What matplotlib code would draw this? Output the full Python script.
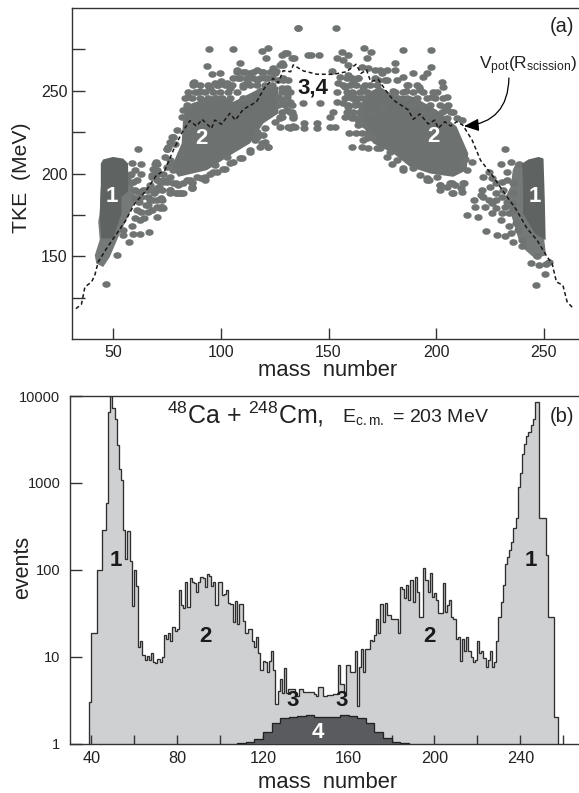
import numpy as np
import matplotlib
matplotlib.use("Agg")
import matplotlib.pyplot as plt
from matplotlib.markers import MarkerStyle
from matplotlib.transforms import Affine2D

plt.rcParams['font.family'] = ['Liberation Sans', 'DejaVu Sans']
plt.rcParams['mathtext.fontset'] = 'custom'
plt.rcParams['mathtext.rm'] = 'Liberation Sans'
plt.rcParams['mathtext.default'] = 'rm'

W, H = 579, 793
BLOB = '#6f7372'
CORE = '#6d7170'
DARK1 = '#5f6463'
LIGHT1 = '#757978'
INK = '#222222'

# ---- panel (a): theoretical curve
curve_mass = [32.5,35.1,36.7,39.8,41.3,42.9,46.7,50.6,55.3,59.9,65.3,70,73.9,77.8,81.6,85.5,88.6,91.2,95.6,97.1,100.2,104.1,
              106.7,110.3,116.5,120.4,124.2,126.6,128.9,129.7,132.4,133.6,138.3,144.5,152.2,158.4,162.8,165.1,167.7,169.6,
              173.1,177,180.1,187.1,189.4,192.5,196.4,199.5,201,204.1,206.8,209.6,212.4,216.8,220.7,226.1,230.8,237,242.4,
              247,251.7,254,256,259,261,264]
curve_tke = [118.3,121,131.4,134.5,138.5,146.6,154.6,162,170.8,181.9,189.9,199,202,214,224.2,231.9,228.6,232.7,227.2,232.3,229.8,236.3,
             232.3,238.7,243.3,252,257.5,254.8,262.1,262,261.5,265.6,262,260,259.9,261.5,266,260.5,262.6,255.5,
             256.9,249.5,244.4,238.4,232.7,236,229.9,232.3,227.3,231.3,228.7,231.3,229.3,220.2,208,199,190,178.8,166.7,
             159.7,149.6,145.6,134.5,132.5,122.4,118.3]

# ---- panel (a): dense regions outlined on the picture
core_left_mass = [82.5,86.4,98,105.8,113.5,119.7,126.7,126.7,119.7,113.5,105.8,93.4,80.2,77,81.7]
core_left_tke = [235.3,242.4,247.4,243.4,248.4,252.5,252.5,236.3,230.3,218.2,212.2,202,198,204,218.2]
core_right_mass = [167.7,173.9,180.1,189.4,200.3,209.6,215,214.2,208,197.2,187.9,180.1,170.8,166.2,163]
core_right_tke = [248.4,252.5,247.4,246.4,238.4,228.3,212.2,202,198,200,204,212.2,218.2,228.3,236.3]
peak_left_light_mass = [56,59,60.4,56.8,53,48.3,45.2,42,41.3,43.6,42.9,43.6,44.1]
peak_left_light_tke = [204,194,184,174,164,149.6,143.5,145.6,150.6,160,171,175.8,192]
peak_left_dark_mass = [44.1,45.2,49.8,54.5,56.8,56.8,53.7,53.7,49.8,44.4,43.6,44.1]
peak_left_dark_tke = [206,208.5,210,209,206,189,186,175.8,160.7,160.7,175.8,192]
peak_right_light_mass = [237,240,250,251.2,246,241.6,238.5,235.7,232.3,234.7,235.7]
peak_right_light_tke = [206,206,163.7,150.6,148.6,153.6,159.7,171.8,186,192,202]
peak_right_dark_mass = [240,243,247.8,250,250.6,251,246,240.5,240.5]
peak_right_dark_tke = [206,208.5,210,209,184,159.7,163.7,175.8,192]

# ---- panel (a): individual event blobs
left_mass = [46.4,51.4,57.3,59.1,66.6,62.2,54.2,54.5,61.5,58.4,62.6,59.9,57.6,56.8,59.1,69.7,68.4,67.7,73,70,66.1,70,63.8,61.5,59.9,66,68.4,72.3,
             73.1,70,65.3,63,66,70,60,62.2,58.4,74.7,73,76.2,76.2,79.3,81.6,86.3,86.3,84,90.9,79.3,77.8,77,75.4,76.2,74.7,78.5,81.6,
             94.6,105.8,119,122,121,129.8,133,136,140.6,93.7,108.9,95.7,99.6,97.2,87.6,94.6,127.5,125.6,
             87.2,89.5,84.8,91.8,94.9,98.8,102.7,104.2,107.3,110.4,113.5,116.6,119.7,108,112,116.6,120.5,124.4,128.2,123.6,130.6,128.2,132,
             130.6,133.7,128.2,132,134.4,125.1,120.5,116.6,120.5,122,118.2,113.5,109.6,105.8,101.9,98,92.6,86.4,86.4,81,76.3,73.2,
             77.9,74.8,69.3,70.9,70,72.4,71.7,67,84,90,100,110,118,128,85,95,103,97,
             87.2,90.3,94.1,98,101.9,105,110.4,113.5,116.6,120.5,123.6,
             84.8,87.9,92.6,96.5,99.6,103.4,107.3,
             83.3,86.4,90.3,94.1,97.2,100.3,104.2,110.4,113.5,
             105.8,108.9,112,115.1,118.2,121.3,
             107.3,111.2,115.1,118.9,122.8,
             125.1,126.7,129,128.2,130.6,126.7,130.6,126.7,129.8,132.9,128.2,132.1,127.5,133.7,
             116.6,119.7,115.8,118.9,122,113.5,108.9,
             104.2,101.1,96.5,92.6,88.7,85.6,86.4,82.5,80.2,77.9,74.8,71.7,76.3,79.4,82.5,69.3,72.4,70,72.4,
             81.7,82.5,84,77.9,76.3,79.4,74.8,74,76.3,70,69.3,67.8,
             63,65,62,67,69,66,64,68,72,61,60,63,61,58,70,71]
left_tke = [133,150.6,158.7,163.7,164.7,163.7,165.7,162.7,214.7,206.5,205.6,202,199,195,195,206.7,203,199,200,196,190,191,190,189,185,186,184,185,
            179,180,181,177,177,174,173,172,168,195,195,198,190,188,188,191,195,196,197,194,202,222,216,208,204,218,212,
            275,275,274,275.7,270,272.6,269.6,287.8,271.6,265,266.6,260,260.5,254.5,255.5,252.5,265.6,262,
            254.5,249.5,246.4,244.4,251.5,253.5,254.5,251.5,262.6,261.5,260.5,262.6,261.5,257.5,255.5,256.5,257.5,263.6,266.6,257.5,249.5,242.4,243.4,
            238.4,235.3,234.3,227.3,228.3,231.3,227.3,222.2,219.2,216.2,216.2,214.2,209.1,207.1,203,201,196,194,191,188,188,196,
            222.2,215,206,200,190,184,179,184,240,250,256,252,250,245,228,200,210,205,
            253.5,253.5,253.5,253.5,253.5,253.5,253.5,253.5,253.5,253.5,253.5,
            249.5,249.5,249.5,249.5,249.5,249.5,249.5,
            245.4,245.4,245.4,245.4,245.4,245.4,245.4,245.4,245.4,
            257.5,257.5,257.5,257.5,257.5,257.5,
            261.5,261.5,261.5,261.5,261.5,
            260.5,256.5,256.5,251.5,251.5,246.4,246.4,241.4,241.4,241.4,237.3,237.3,233.3,233.3,
            225.2,223.2,220.2,218.2,215.8,213.2,209.1,
            206.1,203,201,198,198,196,192,194,193,194,196,195,190,188,188,190,190,184,180,
            234.3,238.4,241.4,222.2,219.2,226.2,215,210,206,206,202,198,
            186,190,183,193,188,181,173,178,180,178,190,200,196,200,202,192]
mid_mass = [135.6,153.4,130.5,128.2,133.9,141.7,145.7,156.4,159.2,153.8,156.9,129,159.2,151.4,155.3,154.5,153.8,156.9,129,131.3,128.2,132,129.7,
            138.3,146,153.8,156.9,132.8,133.6,127.4,152.2,150.7,131.3,133.6,127.4,138.6,138.6,144.5,144.5,150.7,153,159.5]
mid_tke = [288.2,288.2,272.6,271.6,269.6,271.8,271.8,273.2,271.8,269.6,268.6,265.6,265.6,262.2,258.5,254.5,249.5,253.5,257.5,256.5,249.5,249.5,242.4,
           242.4,242.4,243.4,242.4,237.3,234.3,234.3,237.3,234.3,228.3,228.7,228.3,230.3,227.3,230.3,227.3,228.3,227.9,224.2]
right_mass = [166.5,169.6,168,184.5,197.5,180.9,180.9,197.5,189.4,195.6,194,202.6,203.4,181.7,184.8,186.3,192.5,200.3,204.9,208,211.9,204.9,
              159.2,161.5,157.6,158.4,161.5,159.2,160.7,157.6,163.8,163.8,165.4,168.5,171.6,174.7,171.6,177,166.2,
              160.7,165.4,166.2,168.5,172.4,177,179.3,184.8,195.6,201.8,206.5,208,211.9,163,
              232.3,230,234.7,238.5,213.7,216.8,212.2,214.5,207.5,207.5,211.4,213,202,202,196.7,221.5,220.7,224.6,226,230.8,233,233,
              227.7,224.6,230.8,217.6,223,227.7,226,214.5,219.6,232.3,230.8,233.9,223.3,228.4,235.7,240,234.7,247.8,251,250.5,246.3,252.5,
              237,235.4,186,192,198,204,175,180,170,163,
              158.4,160.7,163.8,160,163,166.9,169.3,172.4,158.4,160.7,164.6,167.7,157.6,160.7,163.8,166.2,159.2,162.3,164.6,158.4,161.5,164.6,
              160.7,163.8,166.2,163.8,166.9,165.4,168.5,167.7,170.8,
              187.1,191,180.9,184.8,189.4,194.1,198.7,181.7,186.3,191,195.6,199.5,203.4,188.6,192.5,197.2,201.8,205.7,193.3,198,202.6,207.2,
              195.6,200.3,204.9,209.6,173.1,176.2,173.9,177,
              178.6,173.9,181.7,184.8,189.4,192.5,195.6,200.3,204.9,208.8,212.7,
              222,225,228,231,236,236,228,222,218,233,236,230,226,234,238,232,240,244,247]
right_tke = [275.7,273.6,269.6,274.7,274.7,266.6,262.6,264.6,260.5,260.5,258.1,255.5,252.5,256.5,258.5,253.5,250.5,249.5,246.4,237.3,232.3,238.4,
             259.5,255.5,252.5,246.4,248.4,240.4,235.3,234.3,232.3,257.5,264.6,263.6,262.6,260.5,257.5,256.5,252.5,
             216.2,216.2,220.2,215.2,215.2,210,206,202,197,193,194,188,189,224.2,
             214.7,206,207,206,209,207,206,202,194,188,191,194,193,190,196,190,187,201,197,195,201,196,
             188,184,186,184,180,179,182,175,174,180,176,176,165,163,158.7,160,164,144.6,145.6,139.5,132.9,146.6,
             170,182,250,252,246,240,240,250,236,243,
             257.5,257.5,257.5,253.5,253.5,253.5,253.5,253.5,249.5,249.5,249.5,249.5,245.4,245.4,245.4,245.4,241.4,241.4,241.4,237.3,237.3,237.3,
             233.3,233.3,233.3,229.3,229.3,224.3,224.3,221.2,221.2,
             253.5,253.5,249.5,249.5,249.5,249.5,249.5,245.4,245.4,245.4,245.4,245.4,245.4,241.4,241.4,241.4,241.4,241.4,237.3,237.3,237.3,237.3,
             233.3,233.3,233.3,233.3,256.5,256.5,262.6,262.6,
             213.2,215.2,208.1,203.1,203.1,199,196,198,192,193,194,
             198,192,194,190,194,188,184,186,180,183,178,172,176,168,166,162,156,146,150]

# ---- panel (b): event counts per unit mass bin
hist_first_edge = 38.8
events = [3,19,19,19,100,100,290,290,580,6500,10000,7300,5500,2750,1460,1070,290,133,280,125,38,100,65,13,15,10.4,9.2,10.3,9.2,11,8.6,8.4,
          9.4,8.8,10,18,16,19,15,22,20,21,58,39,36,73,37,80,73,70,56,72,83,80,64,90,85,65,72,39,72,73,51,53,59,42,40,25,44,24,41,40,26,19,21,21,
          15,13,17,11,7,9,8.6,6.7,9,11.7,7,2.9,4,5.5,3.8,7.5,3.8,
          4.25,4.25,4.25,3.5,3.5,4.3,4.3,3.9,3.9,3.9,3.9,3.9,3.7,3.5,4.5,4.5,3.5,3.5,3.6,3.6,3.6,3.7,3.7,8,4.9,4.8,3.9,8,8,6.7,6.7,11.7,2.7,7.7,
          12.4,6.7,12.4,12.4,15.5,15,18,27,18.6,41,25,42,30,30,27,27,27,19,64,60,47,67,45,76,43,83,56,29,29,105,76,56,91,49,54,45,32,32,70,33,39,
          45,29,27,16,17,9,16,11.5,17,11.5,10,8.8,9.2,15,11,11.5,9.6,7.7,9.2,11.5,7.7,8.8,15,29,43,67,118,140,168,210,300,390,890,1300,2150,2800,
          3500,3900,4700,5500,8500,8500,390,390,390,147,29,29,29,2.04,2.04]
sym_edges = [108,112,116,120,124,128,132,136,140,144,148,152,156,160,164,168,172,176,180,184,188]
sym_events = [1.02,1.04,1.13,1.35,1.71,1.95,2.05,2.1,2.14,2.05,2.04,2.04,2.14,2.08,1.95,1.71,1.35,1.15,1.05,1.02]

a_xticks = [50,100,150,200,250]
a_yticks = [125,150,175,200,225,250,275]
a_ylabels = ['','150','','200','','250','']
b_xticks = [40,60,80,100,120,140,160,180,200,220,240,260]
b_xlabels = ['40','','80','','120','','160','','200','','240','']
b_yticks = [1,10,100,1000,10000]
b_ylabels = ['1','10','100','1000','10000']

fig = plt.figure(figsize=(W/100, H/100), dpi=100, facecolor='white')

def px_axes(l, t, r, b):
    return fig.add_axes([l/W, 1-b/H, (r-l)/W, (b-t)/H])

def px_text(x, y, s, **kw):
    kw.setdefault('ha', 'center')
    kw.setdefault('va', 'center')
    kw.setdefault('color', INK)
    return fig.text(x/W, 1-y/H, s, **kw)

def style(ax):
    for k, sp in ax.spines.items():
        sp.set_color('#333333')
        sp.set_linewidth(1.0)
    ax.spines['right'].set_visible(False)
    ax.set_axisbelow(False)

# ---------- panel (a)
axa = px_axes(72, 8, 579, 339)
style(axa)
axa.set_xlim(30.7, 266.5)
axa.set_ylim(100, 300)
axa.set_xticks(a_xticks)
axa.set_yticks(a_yticks, a_ylabels)
axa.tick_params(axis='x', direction='in', length=8, width=1, color='#333333', labelsize=11.5, pad=4, labelcolor=INK)
axa.tick_params(axis='y', direction='in', length=9.5, width=1, color='#333333', labelsize=11.5, pad=3, labelcolor=INK)

blob = MarkerStyle('o', transform=Affine2D().scale(1.15, 0.92))
axa.fill(peak_left_light_mass, peak_left_light_tke, color=LIGHT1, lw=0, zorder=1)
axa.fill(peak_right_light_mass, peak_right_light_tke, color=LIGHT1, lw=0, zorder=1)
axa.fill(core_left_mass, core_left_tke, color=CORE, lw=0, zorder=1)
axa.fill(core_right_mass, core_right_tke, color=CORE, lw=0, zorder=1)
for mm, tt in ((left_mass, left_tke), (mid_mass, mid_tke), (right_mass, right_tke)):
    axa.scatter(mm, tt, s=27, color=BLOB, marker=blob, lw=0, zorder=2)
axa.fill(peak_left_dark_mass, peak_left_dark_tke, color=DARK1, lw=0, zorder=3)
axa.fill(peak_right_dark_mass, peak_right_dark_tke, color=DARK1, lw=0, zorder=3)
axa.plot(curve_mass, curve_tke, color='#1a1a1a', lw=1.1, ls=(0, (2.6, 1.8)), zorder=4)
axa.annotate('', xy=(213, 228.6), xytext=(233.9, 257.7),
             arrowprops=dict(arrowstyle='-|>,head_length=0.9,head_width=0.38', color='black', lw=0.9,
                             shrinkA=0, shrinkB=0, connectionstyle='arc3,rad=-0.45'), zorder=5)

# ---------- panel (b)
axb = px_axes(70, 396, 579, 743.7)
style(axb)
axb.set_yscale('log')
axb.set_xlim(30, 267.4)
axb.set_ylim(1, 10000)
edges = hist_first_edge + np.arange(len(events) + 1)
axb.stairs(events, edges, baseline=1, fill=True, color='#cfd0d2', lw=0, zorder=1)
axb.stairs(events, edges, baseline=1, fill=False, color='#2e2e2e', lw=0.95, zorder=2)
axb.stairs(sym_events, sym_edges, baseline=1, fill=True, color='#5a5b5f', lw=0, zorder=3)
axb.stairs(sym_events, sym_edges, baseline=1, fill=False, color='#222222', lw=0.95, zorder=4)
axb.set_xticks(b_xticks, b_xlabels)
axb.set_yticks(b_yticks, b_ylabels)
axb.minorticks_off()
axb.tick_params(axis='x', direction='in', length=6.5, width=1, color='#333333', labelsize=11.7, pad=5, labelcolor=INK)
axb.tick_params(axis='y', direction='in', length=8.6, width=1, color='#333333', labelsize=10.5, pad=7, labelcolor=INK)

# ---------- text
px_text(22, 178, 'TKE  (MeV)', rotation=90, fontsize=15.2)
px_text(328, 371, 'mass  number', fontsize=15.8)
px_text(23, 567, 'events', rotation=90, fontsize=15.5)
px_text(328, 783, 'mass  number', fontsize=15.8)
px_text(562, 27, '(a)', fontsize=14.5)
px_text(562, 417, '(b)', fontsize=14.5)
px_text(479, 69, r'V$_{\mathrm{pot}}$(R$_{\mathrm{scission}}$)', fontsize=12.5, ha='left', va='baseline')
px_text(167, 423, r'$^{48}$Ca + $^{248}$Cm,', fontsize=18, ha='left', va='baseline')
px_text(342, 422, r'E$_{\mathrm{c.m.}}$ = 203 MeV', fontsize=14, ha='left', va='baseline')

bold = dict(fontsize=16, fontweight='bold')
for x, y, s, c in [(112, 197, '1', 'white'), (201, 138, '2', 'white'), (313, 88, '3,4', '#1a1a1a'),
                   (433, 137, '2', 'white'), (535, 197, '1', 'white'),
                   (116, 560, '1', '#1a1a1a'), (205, 637, '2', '#1a1a1a'), (293, 700, '3', '#1a1a1a'),
                   (342, 700, '3', '#1a1a1a'), (318, 732, '4', 'white'), (429, 637, '2', '#1a1a1a'),
                   (531, 560, '1', '#1a1a1a')]:
    px_text(x, y, s, color=c, zorder=10, **bold)

fig.savefig('out.png', dpi=100)
